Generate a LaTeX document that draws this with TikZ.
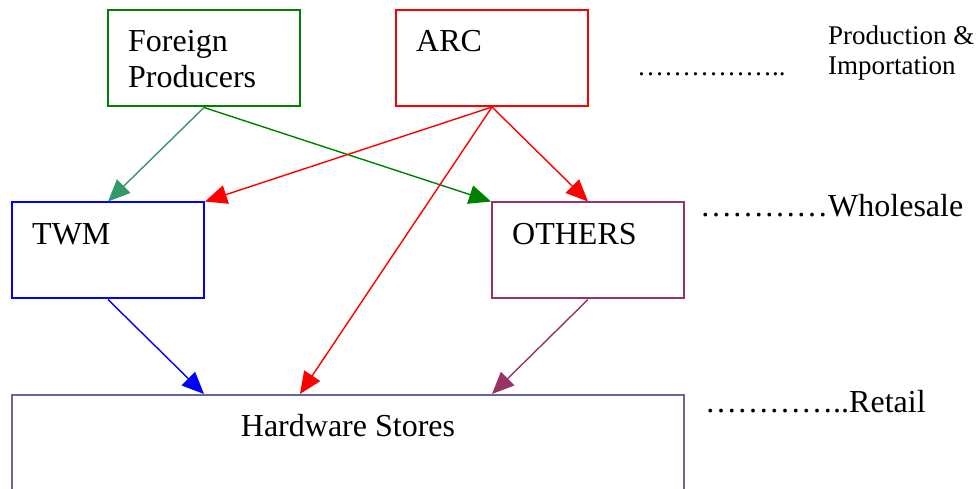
\documentclass[tikz,border=0pt]{standalone}
\usepackage{fontspec}
\setmainfont{Liberation Serif}
\usetikzlibrary{arrows.meta,calc}
\definecolor{fpgreen}{HTML}{008000}
\definecolor{seagr}{HTML}{339966}
\definecolor{arcred}{HTML}{FF0000}
\definecolor{twmblue}{HTML}{0000FF}
\definecolor{othplum}{HTML}{993366}
\definecolor{hsslate}{HTML}{666699}
\begin{document}
\begin{tikzpicture}[x=1pt,y=-1pt,
  box/.style={draw,line width=2pt,rectangle,inner sep=0pt,minimum width=192pt,minimum height=96pt},
  lbl/.style={inner sep=0pt,anchor=base west,font=\fontsize{32}{36}\selectfont},
  slbl/.style={inner sep=0pt,anchor=base west,font=\fontsize{27}{30}\selectfont},
  conn/.style={line width=1.4pt,-{Triangle[length=22pt,width=19pt]}}]
\useasboundingbox (0,0) rectangle (978,489);
% boxes
\node[box,fpgreen] (fp) at (204,58.5) {};
\node[box,arcred] (arc) at (492,58) {};
\node[box,twmblue] (twm) at (108,250.5) {};
\node[box,othplum] (oth) at (588,250.5) {};
\node[box,hsslate,minimum width=672pt,minimum height=110pt] (hs) at (348,450) {};
% box texts
\node[lbl] (t1) at (128,52) {Foreign};
\node[lbl] (t2) at (128,88) {Producers};
\node[lbl] (t3) at (416,52) {ARC};
\node[lbl] (t4) at (32,245) {TWM};
\node[lbl] (t5) at (512,245) {OTHERS};
\node[lbl,anchor=base] (t6) at (348,436) {Hardware Stores};
% level labels
\node[slbl] (l1) at (828,45) {Production \&};
\node[slbl] (l2) at (828,75) {Importation};
\node[slbl] (l3) at (637,76) {……………..};
\node[lbl] (l4) at (700,217) {…………Wholesale};
\node[lbl] (l5) at (705,412) {…………..Retail};
% connectors
\draw[conn,seagr] (fp.south) -- (twm.north);
\draw[conn,fpgreen] (fp.south) -- (oth.north west);
\draw[conn,arcred] (arc.south) -- (twm.north east);
\draw[conn,arcred] (arc.south) -- ([xshift=-48pt]hs.north);
\draw[conn,arcred] (arc.south) -- (oth.north);
\draw[conn,twmblue] (twm.south) -- ([xshift=-144pt]hs.north);
\draw[conn,othplum] (oth.south) -- ([xshift=144pt]hs.north);
\end{tikzpicture}
\end{document}
